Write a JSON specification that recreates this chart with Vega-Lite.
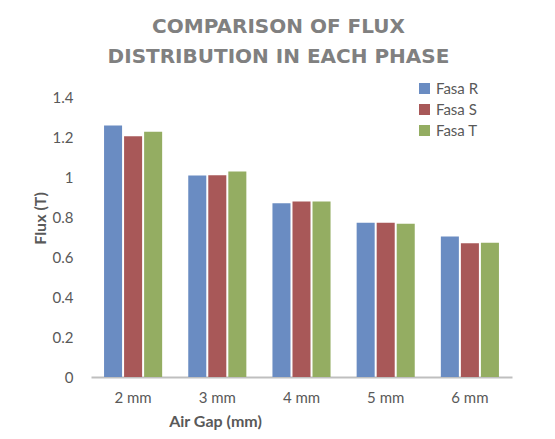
{
  "$schema": "https://vega.github.io/schema/vega-lite/v6.json",
  "autosize": {"type": "none"},
  "width": 421,
  "height": 280,
  "padding": {"left": 91, "top": 97, "right": 43, "bottom": 62},
  "background": "white",
  "title": {
    "text": ["COMPARISON OF FLUX", "DISTRIBUTION IN EACH PHASE"],
    "font": "DejaVu Sans",
    "fontSize": 20,
    "fontWeight": "bold",
    "color": "#808080",
    "lineHeight": 30,
    "anchor": "middle",
    "dx": -23,
    "offset": 14
  },
  "data": {
    "values": [
      {"gap": "2 mm", "phase": "Fasa R", "flux": 1.257},
      {"gap": "2 mm", "phase": "Fasa S", "flux": 1.204},
      {"gap": "2 mm", "phase": "Fasa T", "flux": 1.226},
      {"gap": "3 mm", "phase": "Fasa R", "flux": 1.007},
      {"gap": "3 mm", "phase": "Fasa S", "flux": 1.009},
      {"gap": "3 mm", "phase": "Fasa T", "flux": 1.027},
      {"gap": "4 mm", "phase": "Fasa R", "flux": 0.869},
      {"gap": "4 mm", "phase": "Fasa S", "flux": 0.877},
      {"gap": "4 mm", "phase": "Fasa T", "flux": 0.877},
      {"gap": "5 mm", "phase": "Fasa R", "flux": 0.771},
      {"gap": "5 mm", "phase": "Fasa S", "flux": 0.771},
      {"gap": "5 mm", "phase": "Fasa T", "flux": 0.766},
      {"gap": "6 mm", "phase": "Fasa R", "flux": 0.702},
      {"gap": "6 mm", "phase": "Fasa S", "flux": 0.669},
      {"gap": "6 mm", "phase": "Fasa T", "flux": 0.671}
    ]
  },
  "mark": {"type": "bar"},
  "encoding": {
    "x": {
      "field": "gap",
      "type": "nominal",
      "sort": ["2 mm", "3 mm", "4 mm", "5 mm", "6 mm"],
      "scale": {"paddingInner": 0.31, "paddingOuter": 0.155},
      "axis": {
        "title": "Air Gap (mm)",
        "labelAngle": 0,
        "domainColor": "#bfbfbf",
        "domainWidth": 2,
        "ticks": false,
        "grid": false,
        "labelFont": "Lato",
        "labelFontSize": 15,
        "labelColor": "#595959",
        "labelPadding": 13,
        "titleFont": "Lato",
        "titleFontSize": 16,
        "titleFontWeight": "bold",
        "titleColor": "#595959",
        "titleX": 124,
        "titleY": 44,
        "titleBaseline": "middle"
      }
    },
    "xOffset": {
      "field": "phase",
      "sort": ["Fasa R", "Fasa S", "Fasa T"],
      "scale": {"paddingInner": 0.1, "paddingOuter": 0}
    },
    "y": {
      "field": "flux",
      "type": "quantitative",
      "scale": {"domain": [0, 1.4]},
      "axis": {
        "title": "Flux (T)",
        "values": [0, 0.2, 0.4, 0.6, 0.8, 1, 1.2, 1.4],
        "format": "~g",
        "domain": false,
        "ticks": false,
        "grid": false,
        "labelFont": "Lato",
        "labelFontSize": 15,
        "labelColor": "#595959",
        "labelPadding": 18,
        "titleFont": "Lato",
        "titleFontSize": 16,
        "titleFontWeight": "bold",
        "titleColor": "#595959",
        "titleX": -51,
        "titleY": 121,
        "titleBaseline": "middle",
        "titleAlign": "center"
      }
    },
    "color": {
      "field": "phase",
      "type": "nominal",
      "scale": {
        "domain": ["Fasa R", "Fasa S", "Fasa T"],
        "range": ["#6a8cc2", "#a85858", "#94ad62"]
      },
      "legend": {
        "title": null,
        "orient": "none",
        "legendX": 326,
        "legendY": -16,
        "padding": 0,
        "symbolType": "square",
        "symbolSize": 121,
        "symbolStrokeWidth": 0,
        "labelFont": "Lato",
        "labelFontSize": 15,
        "labelColor": "#595959",
        "labelOffset": 4,
        "rowPadding": 5
      }
    }
  },
  "config": {"view": {"stroke": null}}
}
